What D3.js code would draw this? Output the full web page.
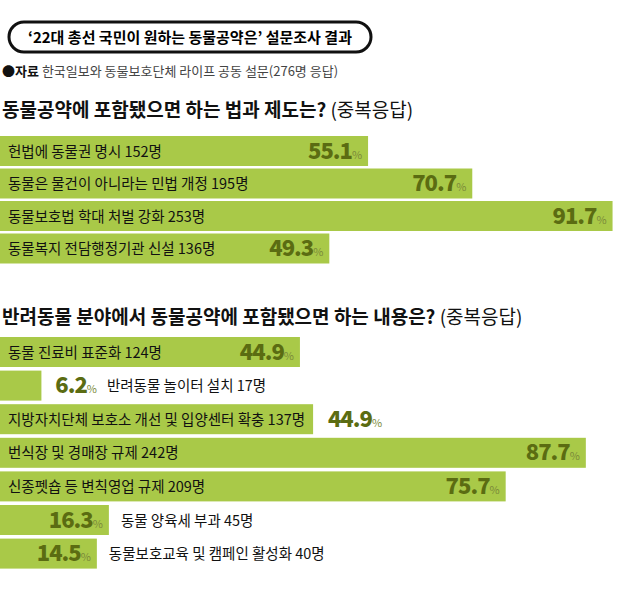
<!DOCTYPE html>
<html><head><meta charset="utf-8">
<script src="https://cdn.jsdelivr.net/npm/d3@7"></script>
<style>body{margin:0;background:#fff;font-family:"Noto Sans CJK KR",sans-serif}</style>
</head><body>
<svg id="chart" width="640" height="601"></svg>
<script>
// survey 1: laws & systems
var lawNames = ["헌법에 동물권 명시 152명", "동물은 물건이 아니라는 민법 개정 195명", "동물보호법 학대 처벌 강화 253명", "동물복지 전담행정기관 신설 136명"];
var lawValues = [55.1, 70.7, 91.7, 49.3];
// survey 2: companion animals
var petNames = ["동물 진료비 표준화 124명", "반려동물 놀이터 설치 17명", "지방자치단체 보호소 개선 및 입양센터 확충 137명", "번식장 및 경매장 규제 242명", "신종펫숍 등 변칙영업 규제 209명", "동물 양육세 부과 45명", "동물보호교육 및 캠페인 활성화 40명"];
var petValues = [44.9, 6.2, 44.9, 87.7, 75.7, 16.3, 14.5];

var svg = d3.select("#chart");
var font = "Noto Sans CJK KR";
var barColor = "#a9c948", valColor = "#5b6c12";
var x = d3.scaleLinear().domain([0, 100]).range([0, 668]);

// title pill
svg.append("rect").attr("x", 9).attr("y", 22).attr("width", 362).attr("height", 30)
    .attr("rx", 15).attr("fill", "#fff").attr("stroke", "#111").attr("stroke-width", 3);
svg.append("text").attr("x", 190).attr("y", 43).attr("text-anchor", "middle")
    .style("font-family", font).style("font-size", "15px").style("font-weight", 700)
    .text("‘22대 총선 국민이 원하는 동물공약은’ 설문조사 결과");

var src = svg.append("text").attr("x", 2).attr("y", 76)
    .style("font-family", font).style("font-size", "13px");
src.append("tspan").style("font-weight", 700).attr("fill", "#111").text("●자료 ");
src.append("tspan").attr("fill", "#444").text("한국일보와 동물보호단체 라이프 공동 설문(276명 응답)");

function heading(y, bold, rest) {
    var t = svg.append("text").attr("x", 2).attr("y", y)
        .style("font-family", font).style("font-size", "19px").attr("fill", "#111");
    t.append("tspan").style("font-weight", 700).text(bold);
    t.append("tspan").style("font-weight", 400).text(" " + rest);
}
heading(117, "동물공약에 포함됐으면 하는 법과 제도는?", "(중복응답)");
heading(324, "반려동물 분야에서 동물공약에 포함됐으면 하는 내용은?", "(중복응답)");

function measure(txt, size, weight) {
    var t = svg.append("text").style("font-family", font).style("font-size", size + "px")
        .style("font-weight", weight).text(txt);
    var w = t.node().getComputedTextLength(); t.remove(); return w;
}

function bars(names, values, top, step, h) {
    names.forEach(function (name, i) {
        var y = top + i * step, v = values[i];
        var w = x(v);
        var nameW = measure(name, 14.5, 400);
        var valTxt = v.toFixed(1);
        var valW = measure(valTxt, 22, 900) + 13;
        var mode;
        if (nameW + valW + 30 <= w) mode = "in";
        else if (nameW + 16 <= w * 1.15) { mode = "ext"; w = nameW + 16; }
        else if (valW + 12 <= w) mode = "valIn";
        else mode = "out";
        var g = svg.append("g");
        g.append("rect").attr("x", 0).attr("y", y).attr("width", w).attr("height", h).attr("fill", barColor);
        var cy = y + h / 2 + 5.5;
        function val(xEnd) {
            var t = g.append("text").attr("x", xEnd).attr("y", cy + 2).attr("text-anchor", "end");
            t.append("tspan").style("font-family", font).style("font-size", "22px").style("font-weight", 900)
                .attr("fill", valColor).style("letter-spacing", "-1px").text(valTxt);
            t.append("tspan").style("font-family", font).style("font-size", "11px").attr("fill", "#7b8a3a").text("%");
        }
        function lab(xs) {
            g.append("text").attr("x", xs).attr("y", cy).style("font-family", font)
                .style("font-size", "14.5px").attr("fill", "#111").text(name);
        }
        if (mode == "in") { lab(8); val(w - 6); }
        else if (mode == "ext") { lab(8); val(w + 8 + valW); }
        else if (mode == "valIn") { val(w - 6); lab(w + 12); }
        else { val(w + 8 + valW); lab(w + valW + 18); }
    });
}
bars(lawNames, lawValues, 136, 32.5, 30);
bars(petNames, petValues, 337, 33.6, 30);
</script>
</body></html>
